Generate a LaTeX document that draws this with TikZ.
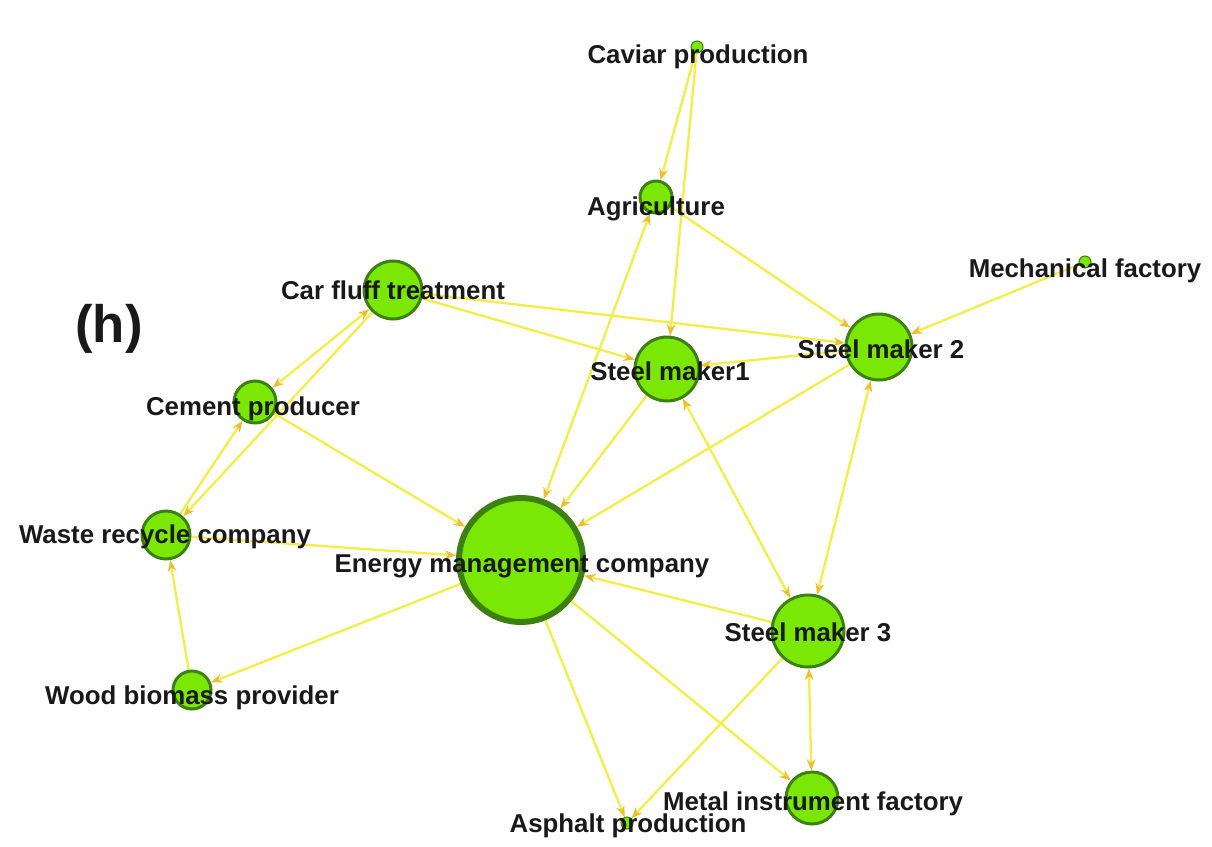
\documentclass[tikz,border=0pt]{standalone}
\usepackage{fontspec}
\setmainfont{Liberation Sans}
\usetikzlibrary{arrows.meta}
\definecolor{nodefill}{RGB}{122,232,4}
\definecolor{nodeedge}{RGB}{60,128,16}
\definecolor{linkc}{RGB}{245,236,70}
\definecolor{tipc}{RGB}{238,190,50}
\pgfdeclarelayer{bg}
\pgfsetlayers{bg,main}

\begin{document}
\begin{tikzpicture}[x=0.02cm,y=-0.02cm,
  firm/.style={circle,fill=nodefill,draw=nodeedge,line width=1.7pt,inner sep=0pt,minimum size=#1*0.4mm},
  dot/.style={firm=#1,line width=0.6pt},
  lbl/.style={anchor=base,inner sep=0pt,text=black!90,font=\bfseries\fontsize{14.7}{17}\selectfont},
  link/.style={draw=linkc,line width=1.3pt},
  >={Stealth[length=6.5pt,width=5pt,color=tipc]}]
\useasboundingbox (0,0) rectangle (1212,846);

\node[dot=6] (cav) at (697,47) {};
\node[firm=16] (agr) at (656,197) {};
\node[firm=29] (car) at (393,290) {};
\node[dot=6] (mech) at (1085,262) {};
\node[firm=33] (sm2) at (879,347) {};
\node[firm=32] (sm1) at (667,369) {};
\node[firm=21] (cem) at (255,402) {};
\node[firm=24] (was) at (166,535) {};
\node[firm=62,line width=3.4pt] (emc) at (521,560) {};
\node[firm=36] (sm3) at (808,631) {};
\node[firm=19] (wood) at (192,690) {};
\node[firm=26] (met) at (812,798) {};
\node[dot=6] (asp) at (627,823) {};

\begin{pgfonlayer}{bg}
\draw[link,->] (cav)--(agr);
\draw[link,->] (cav)--(sm1);
\draw[link,->] (agr)--(sm2);
\draw[link,<->] (agr)--(emc);
\draw[link,->] (car)--(sm2);
\draw[link,->] (car)--(sm1);
\draw[link,->] (sm2)--(sm1);
\draw[link,->] (sm2)--(emc);
\draw[link,->] (mech)--(sm2);
\draw[link,->] (sm1)--(emc);
\draw[link,<->] (sm1)--(sm3);
\draw[link,<->] (sm2)--(sm3);
\draw[link,->] (sm3)--(emc);
\draw[link,->] (sm3)--(asp);
\draw[link,<->] (sm3)--(met);
\draw[link,->] (emc)--(met);
\draw[link,->] (emc)--(asp);
\draw[link,->] (emc)--(wood);
\draw[link,->] (wood)--(was);
\draw[link,->] (was)--(emc);
\draw[link,->] (cem)--(emc);
\draw[link,<->] (car)--(cem);
\draw[link,->] (car)--(was);
\draw[link,->] (was)--(cem);
\end{pgfonlayer}

\node[lbl] (cavL) at (698,63) {Caviar production};
\node[lbl] (agrL) at (656,215) {Agriculture};
\node[lbl] (carL) at (393,299) {Car fluff treatment};
\node[lbl] (mechL) at (1085,277) {Mechanical factory};
\node[lbl] (sm2L) at (881,358) {Steel maker 2};
\node[lbl] (sm1L) at (670,380) {Steel maker1};
\node[lbl] (cemL) at (253,415) {Cement producer};
\node[lbl] (wasL) at (165,543) {Waste recycle company};
\node[lbl] (emcL) at (522,572) {Energy management company};
\node[lbl] (sm3L) at (808,641) {Steel maker 3};
\node[lbl] (woodL) at (192,704) {Wood biomass provider};
\node[lbl] (metL) at (813,810) {Metal instrument factory};
\node[lbl] (aspL) at (628,832) {Asphalt production};
\node[lbl,font=\bfseries\fontsize{30}{34}\selectfont] (tag) at (109,342) {(h)};
\end{tikzpicture}
\end{document}
